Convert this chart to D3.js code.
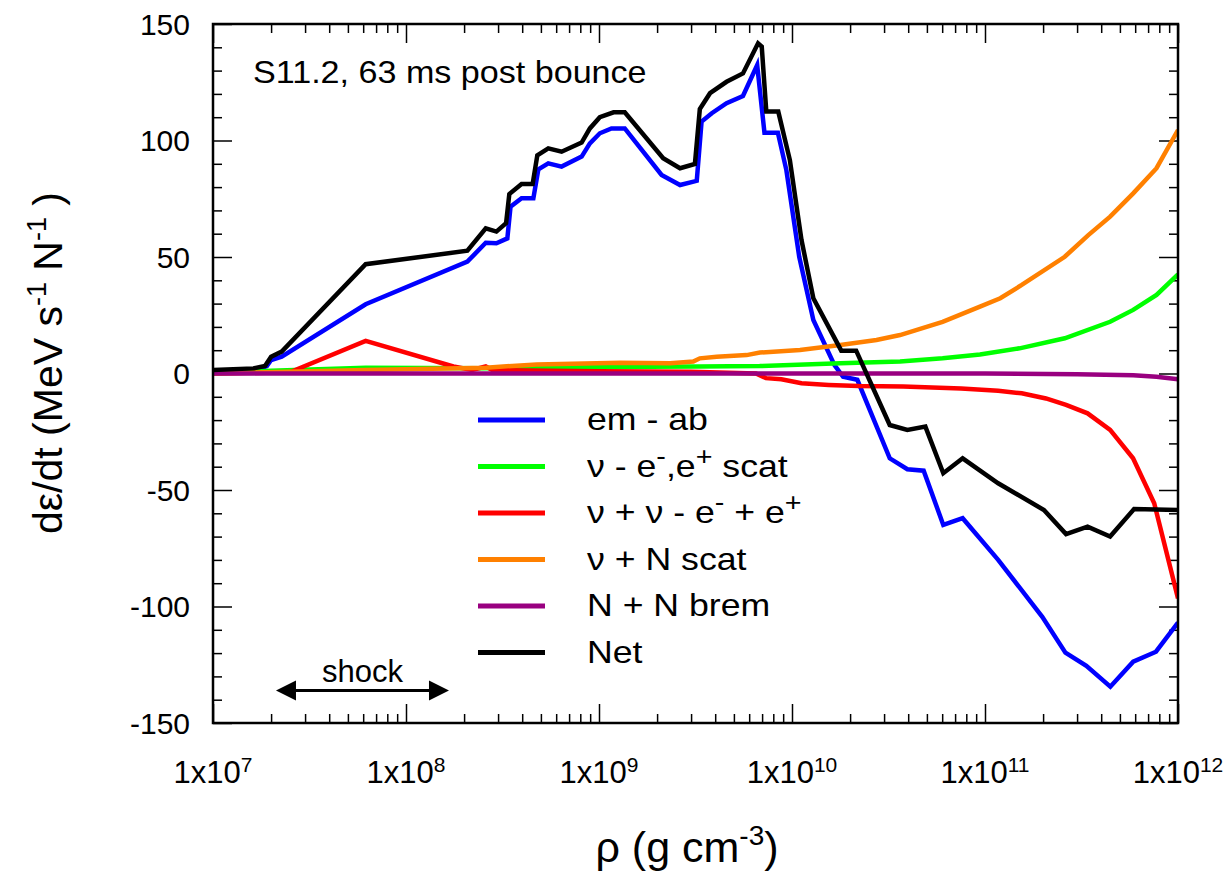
<!DOCTYPE html>
<html>
<head>
<meta charset="utf-8">
<script src="https://cdn.jsdelivr.net/npm/d3@7"></script>
<style>
  body { margin: 0; background: #fff; }
  text { font-family: "Liberation Sans", Arial, Helvetica, sans-serif; fill: #000; }
</style>
</head>
<body>
<svg id="chart" width="1232" height="884"></svg>
<script>
// density (g/cm^3) vs d(eps)/dt
const emAb = [[1e7,0.5],[1.62e7,1],[1.9e7,3.2],[2.0e7,5.8],[2.27e7,7.2],[6.18e7,29.7],[2.08e8,48],
  [2.59e8,56.1],[2.94e8,55.9],[3.35e8,58],[3.48e8,71.6],[3.97e8,75.2],[4.57e8,75.2],[4.85e8,87.6],
  [5.46e8,90.2],[6.4e8,88.8],[8.13e8,93.1],[8.97e8,98.8],[1.01e9,103.1],[1.16e9,105.2],[1.36e9,105.2],
  [2.11e9,85.2],[2.63e9,80.9],[3.21e9,82.7],[3.4e9,108.1],[3.84e9,111.7],[4.58e9,116],[5.57e9,119.1],
  [6.6e9,132.4],[7.2e9,103.3],[8.45e9,103.3],[9.35e9,87.3],[1.09e10,50.1],[1.29e10,23],[1.66e10,3.6],
  [1.84e10,-1.4],[2.18e10,-2.7],[3.21e10,-36.4],[3.96e10,-41.1],[4.81e10,-41.7],[6.08e10,-65],
  [7.66e10,-62.1],[1.17e11,-80],[1.98e11,-104.4],[2.61e11,-119.8],[3.35e11,-125.5],[4.46e11,-134.4],
  [5.86e11,-123.7],[7.69e11,-119.4],[1e12,-106.9]];
const eScat = [[1e7,0],[2.0e7,1.2],[6.18e7,2.5],[2.5e8,2.2],[1e9,2.8],[3.3e9,3.0],[6.8e9,3.2],
  [1.78e10,4.4],[3.63e10,5.1],[6.03e10,6.5],[9.42e10,8.2],[1.51e11,10.8],[2.59e11,15.1],[4.45e11,22.2],
  [5.86e11,27.3],[7.74e11,33.7],[1e12,42.5]];
const pairs = [[1e7,0],[2.5e7,0.5],[6.18e7,14],[1.76e8,3],[2.2e8,1.5],[2.59e8,3],[2.8e8,1.5],[1e9,1],
  [3e9,0.8],[6.5e9,0],[7.33e9,-2],[8.81e9,-2.5],[1.12e10,-4.2],[1.55e10,-4.9],[2.22e10,-5.4],
  [3.77e10,-5.6],[7.52e10,-6.4],[1.17e11,-7.4],[1.55e11,-8.5],[2.07e11,-10.7],[2.63e11,-13.5],
  [3.4e11,-17.1],[4.45e11,-24.2],[5.85e11,-36.4],[7.53e11,-55.7],[1e12,-96.5]];
const nScat = [[1e7,0],[6.18e7,1.5],[2.59e8,2.5],[4.75e8,3.9],[1.29e9,4.6],[2.34e9,4.4],[3.08e9,5.1],
  [3.33e9,6.5],[4.07e9,7.2],[5.82e9,7.9],[6.82e9,9.0],[1.1e10,10.1],[1.78e10,12.2],[2.74e10,14.4],
  [3.63e10,16.5],[6.03e10,22.2],[9.42e10,28.7],[1.2e11,32.3],[1.55e11,38],[2.59e11,50.1],[3.43e11,59.4],
  [4.45e11,67.3],[5.86e11,77.3],[7.74e11,88.1],[1e12,104.5]];
const brem = [[1e7,0],[1e11,0],[3e11,-0.3],[5.86e11,-0.8],[7.74e11,-1.4],[1e12,-2.5]];
const net = [[1e7,1.5],[1.62e7,2.2],[1.86e7,3.2],[2.0e7,7.2],[2.27e7,9.4],[6.18e7,46.9],[2.08e8,52.7],
  [2.59e8,62.3],[2.94e8,60.9],[3.3e8,64.5],[3.43e8,77],[3.97e8,81.3],[4.53e8,81.3],[4.79e8,93.6],
  [5.46e8,96.6],[6.4e8,95.2],[8.13e8,99.1],[8.97e8,105.2],[1.01e9,110],[1.19e9,112.1],[1.36e9,112.1],
  [2.15e9,92.4],[2.63e9,88.1],[3.14e9,89.9],[3.33e9,113.5],[3.76e9,120.3],[4.58e9,125.2],[5.57e9,128.8],
  [6.67e9,141.7],[6.97e9,140.3],[7.36e9,112.4],[8.49e9,112.4],[9.75e9,91.6],[1.12e10,57.3],[1.29e10,32.3],
  [1.8e10,9.8],[2.15e10,9.8],[3.21e10,-22.1],[3.96e10,-24.2],[4.91e10,-22.8],[6.08e10,-42.8],
  [7.66e10,-36.4],[1.17e11,-47.1],[2.02e11,-58.6],[2.63e11,-68.9],[3.4e11,-65.7],[4.45e11,-70],
  [5.92e11,-58.2],[1e12,-58.6]];

const seriesData = [emAb, eScat, pairs, nScat, brem, net];
const seriesColors = ["#0000ff", "#00ff00", "#ff0000", "#ff8000", "#990080", "#000000"];
// legend labels: [text, isSuperscript]
const legendLabels = [
  [["em - ab", false]],
  [["\u03bd - e", false], ["-", true], [",e", false], ["+", true], [" scat", false]],
  [["\u03bd + \u03bd - e", false], ["-", true], [" + e", false], ["+", true]],
  [["\u03bd + N scat", false]],
  [["N + N brem", false]],
  [["Net", false]]
];
const decades = [1e7, 1e8, 1e9, 1e10, 1e11, 1e12];
const decadeExp = ["7", "8", "9", "10", "11", "12"];
const yMajor = [-150, -100, -50, 0, 50, 100, 150];
const shockRange = [2.12e7, 1.67e8];
const shockY = -136;

const svg = d3.select("#chart");
const pLeft = 213, pRight = 1178, pTop = 24, pBottom = 723;

const x = d3.scaleLog().domain([1e7, 1e12]).range([pLeft, pRight]);
const y = d3.scaleLinear().domain([-150, 150]).range([pBottom, pTop]);

const xMinor = [];
for (let e = 7; e < 12; e++) for (let k = 2; k <= 9; k++) xMinor.push(k * Math.pow(10, e));
const yMinor = d3.range(-150, 151, 10).filter(v => v % 50 !== 0);

function tickAxis(axis, transform) {
  const g = svg.append("g").attr("transform", transform).call(axis);
  g.select(".domain").remove();
  g.selectAll(".tick line").attr("stroke", "#000").attr("stroke-width", 1.5);
  g.selectAll(".tick text").remove();
}
tickAxis(d3.axisBottom(x).tickValues(decades).tickSize(-19), `translate(0,${pBottom})`);
tickAxis(d3.axisBottom(x).tickValues(xMinor).tickSize(-9), `translate(0,${pBottom})`);
tickAxis(d3.axisTop(x).tickValues(decades).tickSize(-19), `translate(0,${pTop})`);
tickAxis(d3.axisTop(x).tickValues(xMinor).tickSize(-9), `translate(0,${pTop})`);
tickAxis(d3.axisLeft(y).tickValues(yMajor).tickSize(-19), `translate(${pLeft},0)`);
tickAxis(d3.axisLeft(y).tickValues(yMinor).tickSize(-9), `translate(${pLeft},0)`);
tickAxis(d3.axisRight(y).tickValues(yMajor).tickSize(-19), `translate(${pRight},0)`);
tickAxis(d3.axisRight(y).tickValues(yMinor).tickSize(-9), `translate(${pRight},0)`);

// data lines
svg.append("clipPath").attr("id", "clip")
  .append("rect").attr("x", pLeft).attr("y", pTop).attr("width", pRight - pLeft).attr("height", pBottom - pTop);

const line = d3.line().x(d => x(d[0])).y(d => y(d[1]));
svg.append("g").attr("clip-path", "url(#clip)")
  .selectAll("path").data(seriesData).join("path")
  .attr("d", line)
  .attr("fill", "none")
  .attr("stroke", (d, i) => seriesColors[i])
  .attr("stroke-width", 4.5)
  .attr("stroke-linejoin", "miter");

// frame
svg.append("rect").attr("x", pLeft).attr("y", pTop).attr("width", pRight - pLeft).attr("height", pBottom - pTop)
  .attr("fill", "none").attr("stroke", "#000").attr("stroke-width", 2.5);

// tick labels
svg.append("g").selectAll("text").data(yMajor).join("text")
  .attr("x", 190).attr("y", d => y(d)).attr("dy", "0.36em")
  .attr("text-anchor", "end").attr("font-size", 30)
  .text(d => d);

const xl = svg.append("g").selectAll("text").data(decades).join("text")
  .attr("x", d => x(d)).attr("y", 783).attr("text-anchor", "middle").attr("font-size", 31);
xl.append("tspan").text("1x10");
xl.append("tspan").attr("dy", -11).attr("font-size", 21).text((d, i) => decadeExp[i]);

function rich(sel, parts, supSize, shift) {
  let up = false;
  parts.forEach(([t, sup]) => {
    const ts = sel.append("tspan").text(t);
    if (sup && !up) { ts.attr("dy", -shift).attr("font-size", supSize); up = true; }
    else if (sup) { ts.attr("font-size", supSize); }
    else if (up) { ts.attr("dy", shift); up = false; }
  });
}

// axis titles
const yt = svg.append("text").attr("transform", "translate(62,363) rotate(-90)")
  .attr("text-anchor", "middle").attr("font-size", 41);
rich(yt, [["d\u03b5/dt (MeV s", false], ["-1", true], [" N", false], ["-1", true], [" )", false]], 27, 16);

const xt = svg.append("text").attr("x", 687).attr("y", 862)
  .attr("text-anchor", "middle").attr("font-size", 43);
rich(xt, [["\u03c1 (g cm", false], ["-3", true], [")", false]], 28, 17);

// annotation
svg.append("text").attr("transform", "translate(253,83) scale(1.1,1)").attr("font-size", 31)
  .text("S11.2, 63 ms post bounce");

// legend
const legend = svg.append("g");
legendLabels.forEach((parts, i) => {
  const ry = 420 + i * 46.5;
  legend.append("line").attr("x1", 478).attr("x2", 545).attr("y1", ry).attr("y2", ry)
    .attr("stroke", seriesColors[i]).attr("stroke-width", 5);
  const t = legend.append("text").attr("transform", `translate(587,${ry + 10}) scale(1.15,1)`)
    .attr("font-size", 31);
  rich(t, parts, 25, 12);
});

// shock arrow
const sx0 = x(shockRange[0]), sx1 = x(shockRange[1]), sy = y(shockY);
svg.append("line").attr("x1", sx0 + 15).attr("x2", sx1 - 15).attr("y1", sy).attr("y2", sy)
  .attr("stroke", "#000").attr("stroke-width", 3);
svg.append("path").attr("d", `M${sx0},${sy} l20,-10 l0,20 Z M${sx1},${sy} l-20,-10 l0,20 Z`).attr("fill", "#000");
svg.append("text").attr("x", (sx0 + sx1) / 2).attr("y", sy - 8).attr("text-anchor", "middle")
  .attr("font-size", 31).text("shock");
</script>
</body>
</html>
